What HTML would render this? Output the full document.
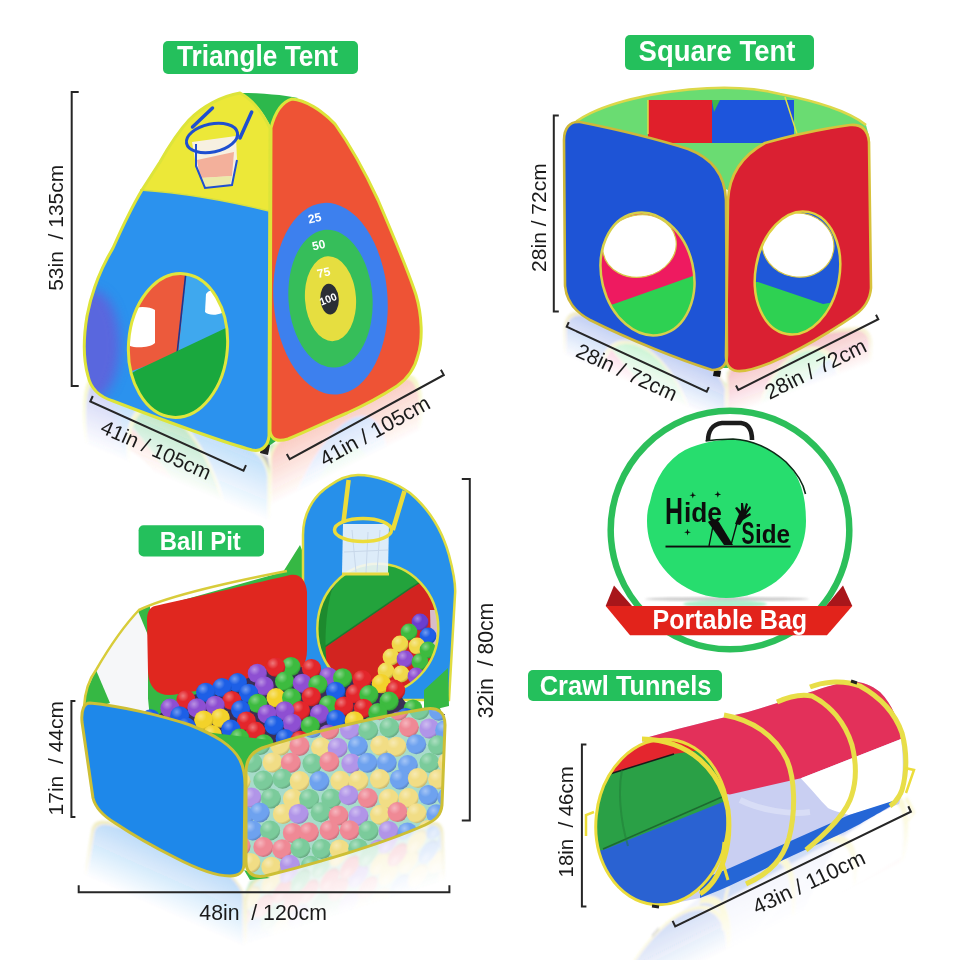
<!DOCTYPE html>
<html><head><meta charset="utf-8"><style>
html,body{margin:0;padding:0;background:#fff;}
svg{display:block;}
text{font-family:"Liberation Sans", sans-serif;}
</style></head><body>
<svg width="960" height="960" viewBox="0 0 960 960">
<defs>
<filter id="blur6" x="-20%" y="-20%" width="140%" height="140%"><feGaussianBlur stdDeviation="6"/></filter>
<filter id="blur3" x="-20%" y="-20%" width="140%" height="140%"><feGaussianBlur stdDeviation="3"/></filter>
<filter id="blur1" x="-20%" y="-20%" width="140%" height="140%"><feGaussianBlur stdDeviation="1"/></filter>
<radialGradient id="ballhl" cx="0.35" cy="0.3" r="0.75">
<stop offset="0" stop-color="#fff" stop-opacity="0.38"/>
<stop offset="0.4" stop-color="#fff" stop-opacity="0"/>
<stop offset="0.8" stop-color="#000" stop-opacity="0"/>
<stop offset="1" stop-color="#000" stop-opacity="0.25"/>
</radialGradient>
</defs>
<rect width="960" height="960" fill="#ffffff"/>

<defs><linearGradient id="rg0" gradientUnits="userSpaceOnUse" x1="175.0" y1="417.3" x2="198.1" y2="362.0"><stop offset="0" stop-color="#fff"/><stop offset="1" stop-color="#000"/></linearGradient><mask id="rm0" maskUnits="userSpaceOnUse" x="-500" y="-2000" width="2000" height="4000"><rect x="-500" y="-2000" width="2000" height="4000" fill="url(#rg0)"/></mask><clipPath id="rc0"><rect x="80" y="-2000" width="190" height="4000"/></clipPath><linearGradient id="rg1" gradientUnits="userSpaceOnUse" x1="350.0" y1="405.1" x2="325.4" y2="356.0"><stop offset="0" stop-color="#fff"/><stop offset="1" stop-color="#000"/></linearGradient><mask id="rm1" maskUnits="userSpaceOnUse" x="-500" y="-2000" width="2000" height="4000"><rect x="-500" y="-2000" width="2000" height="4000" fill="url(#rg1)"/></mask><clipPath id="rc1"><rect x="270" y="-2000" width="160" height="4000"/></clipPath><linearGradient id="rg2" gradientUnits="userSpaceOnUse" x1="640.8" y1="339.3" x2="658.4" y2="297.9"><stop offset="0" stop-color="#fff"/><stop offset="1" stop-color="#000"/></linearGradient><mask id="rm2" maskUnits="userSpaceOnUse" x="-500" y="-2000" width="2000" height="4000"><rect x="-500" y="-2000" width="2000" height="4000" fill="url(#rg2)"/></mask><clipPath id="rc2"><rect x="555" y="-2000" width="171.5" height="4000"/></clipPath><linearGradient id="rg3" gradientUnits="userSpaceOnUse" x1="803.2" y1="341.2" x2="787.5" y2="299.0"><stop offset="0" stop-color="#fff"/><stop offset="1" stop-color="#000"/></linearGradient><mask id="rm3" maskUnits="userSpaceOnUse" x="-500" y="-2000" width="2000" height="4000"><rect x="-500" y="-2000" width="2000" height="4000" fill="url(#rg3)"/></mask><clipPath id="rc3"><rect x="726.5" y="-2000" width="153.5" height="4000"/></clipPath><linearGradient id="rg4" gradientUnits="userSpaceOnUse" x1="162.2" y1="845.1" x2="186.9" y2="790.4"><stop offset="0" stop-color="#fff"/><stop offset="1" stop-color="#000"/></linearGradient><mask id="rm4" maskUnits="userSpaceOnUse" x="-500" y="-2000" width="2000" height="4000"><rect x="-500" y="-2000" width="2000" height="4000" fill="url(#rg4)"/></mask><clipPath id="rc4"><rect x="80" y="-2000" width="164.5" height="4000"/></clipPath><linearGradient id="rg5" gradientUnits="userSpaceOnUse" x1="349.8" y1="848.7" x2="331.5" y2="791.5"><stop offset="0" stop-color="#fff"/><stop offset="1" stop-color="#000"/></linearGradient><mask id="rm5" maskUnits="userSpaceOnUse" x="-500" y="-2000" width="2000" height="4000"><rect x="-500" y="-2000" width="2000" height="4000" fill="url(#rg5)"/></mask><clipPath id="rc5"><rect x="244.5" y="-2000" width="210.5" height="4000"/></clipPath><linearGradient id="rg6" gradientUnits="userSpaceOnUse" x1="762.5" y1="866.6" x2="735.9" y2="812.8"><stop offset="0" stop-color="#fff"/><stop offset="1" stop-color="#000"/></linearGradient><mask id="rm6" maskUnits="userSpaceOnUse" x="-500" y="-2000" width="2000" height="4000"><rect x="-500" y="-2000" width="2000" height="4000" fill="url(#rg6)"/></mask><clipPath id="rc6"><rect x="590" y="-2000" width="345" height="4000"/></clipPath></defs>
<g filter="url(#blur1)">
<g opacity="0.3"><use href="#tt" transform="matrix(1,0.8360,0,-1,0,688.40)" mask="url(#rm0)" clip-path="url(#rc0)"/></g>
<g opacity="0.3"><use href="#tt" transform="matrix(1,-1.0000,0,-1,0,1160.30)" mask="url(#rm1)" clip-path="url(#rc1)"/></g>
<g opacity="0.28"><use href="#sq" transform="matrix(1,0.8500,0,-1,0,134.00)" mask="url(#rm2)" clip-path="url(#rc2)"/></g>
<g opacity="0.28"><use href="#sq" transform="matrix(1,-0.7480,0,-1,0,1283.20)" mask="url(#rm3)" clip-path="url(#rc3)"/></g>
<g opacity="0.3"><use href="#bp" transform="matrix(1,0.9000,0,-1,0,1544.20)" mask="url(#rm4)" clip-path="url(#rc4)"/></g>
<g opacity="0.3"><use href="#bp" transform="matrix(1,-0.6400,0,-1,0,1921.20)" mask="url(#rm5)" clip-path="url(#rc5)"/></g>
<g opacity="0.24"><use href="#tun" transform="matrix(1,-0.9900,0,-1,0,2488.00)" mask="url(#rm6)" clip-path="url(#rc6)"/></g>
</g>
<g id="tt">
<path d="M250,446 L262,451 L276,441 L271,415 Z" fill="#2fb24a"/>
<path d="M262,443 L270,445 L268,455 L260,453 Z" fill="#222"/>
<path d="M240,93 C222,96 203,106 189,120 C178,132 169,146 160,162 L142,190 C130,210 121,230 113,248 C101,268 92,290 87,316 C83,340 84,362 88,376 C91,390 100,397 113,401 C160,419 218,441 252,450 C262,452 268,446 269,436 L270,128 C262,112 252,99 240,93 Z" fill="#2b92ee"/>
<clipPath id="ttfc"><path d="M240,93 C222,96 203,106 189,120 C178,132 169,146 160,162 L142,190 C130,210 121,230 113,248 C101,268 92,290 87,316 C83,340 84,362 88,376 C91,390 100,397 113,401 C160,419 218,441 252,450 C262,452 268,446 269,436 L270,128 C262,112 252,99 240,93 Z"/></clipPath><g clip-path="url(#ttfc)"><ellipse cx="92" cy="345" rx="28" ry="55" fill="#6a58d8" opacity="0.75" filter="url(#blur6)"/></g>
<path d="M240,93 C222,96 203,106 189,120 C178,132 169,146 160,162 L142,190 Q200,194 269,211 L270,128 C262,112 252,99 240,93 Z" fill="#ece838"/>
<path d="M240,93 C262,93 284,95 298,98 C287,104 277,114 271,128 C264,112 254,100 240,93 Z" fill="#2db84c"/>
<path d="M271,128 C275,112 282,102 292,99 C305,100 322,110 335,124 C350,145 365,172 378,200 C393,235 408,270 416,295 C422,315 423,340 418,355 C415,368 407,379 397,386 C380,397 365,405 347,413 C330,420 310,430 288,439 C278,442 271,440 270,431 Z" fill="#ee5335"/>
<g transform="rotate(-4 330.5 298.7)">
<ellipse cx="330.5" cy="298.7" rx="57" ry="96" fill="#3d80ee"/>
<ellipse cx="330.5" cy="298.7" rx="42" ry="69" fill="#36be5a"/>
<ellipse cx="330.5" cy="298.7" rx="25.5" ry="42.5" fill="#e6de40"/>
<ellipse cx="329.5" cy="299" rx="9.2" ry="15.4" fill="#2b2f35"/>
</g>
<g fill="#fff" font-weight="bold" font-size="12" text-anchor="middle">
<text transform="translate(315.5 222) rotate(-12)">25</text>
<text transform="translate(319.5 249) rotate(-12)">50</text>
<text transform="translate(324.5 276.5) rotate(-12)">75</text>
<text transform="translate(329.5 302.5) rotate(-22)" font-size="10.5">100</text>
</g>
<clipPath id="door1"><ellipse cx="178" cy="345.5" rx="49.5" ry="72" transform="rotate(4 178 345.5)"/></clipPath>
<g clip-path="url(#door1)">
<rect x="120" y="265" width="120" height="160" fill="#3fa8ee"/>
<path d="M120,265 L187,265 L178,355 L120,375 Z" fill="#ec5a3c"/>
<path d="M186,272 L177,354" stroke="#1c3590" stroke-width="1.6"/>
<path d="M120,380 L137,370 L230,326 L240,326 L240,430 L120,430 Z" fill="#1aa83e"/>
<path d="M130,310 C135,306 150,306 155,310 L155,343 C150,348 135,348 130,346 Z" fill="#fff"/>
<path d="M206,294 C210,288 218,290 222,298 L222,313 C215,316 208,315 205,312 Z" fill="#fff"/>
</g>
<ellipse cx="178" cy="345.5" rx="49.5" ry="72" transform="rotate(4 178 345.5)" fill="none" stroke="#e0e63c" stroke-width="3"/>
<!-- hoop -->
<path d="M192,142 L236,136 L237,160 L232,185 L205,188 L196,166 Z" fill="#f8f0ea" opacity="0.95"/>
<path d="M197,160 L234,152 L232,176 L200,178 Z" fill="#f2a48e" opacity="0.85"/><path d="M200,178 L232,176 L230,185 L205,188 Z" fill="#e8e89a" opacity="0.8"/>
<path d="M196,144 L196,166 L205,188 L232,185 L237,160" fill="none" stroke="#1f4fd0" stroke-width="2"/>
<ellipse cx="212" cy="138" rx="26" ry="14" transform="rotate(-12 212 138)" fill="none" stroke="#1f4fd0" stroke-width="3"/>
<path d="M192.5,127 L212.5,108 M240,138 L251.7,112" stroke="#1f4fd0" stroke-width="3.5" stroke-linecap="round"/>
<!-- piping -->
<path d="M240,93 C222,96 203,106 189,120 C178,132 169,146 160,162 L142,190 C130,210 121,230 113,248 C101,268 92,290 87,316 C83,340 84,362 88,376 C91,390 100,397 113,401 C160,419 218,441 252,450 C262,452 268,446 269,436 L270,128 C262,112 252,99 240,93 Z" fill="none" stroke="#dde43a" stroke-width="3"/>
<path d="M271,128 C275,112 282,102 292,99 C305,100 322,110 335,124 C350,145 365,172 378,200 C393,235 408,270 416,295 C422,315 423,340 418,355 C415,368 407,379 397,386 C380,397 365,405 347,413 C330,420 310,430 288,439 C278,442 271,440 270,431 Z" fill="none" stroke="#dde43a" stroke-width="3"/>
<path d="M140,190 Q200,194 269,211" fill="none" stroke="#d8e040" stroke-width="1.5"/>
</g>

<g id="sq">
<path d="M565,135 C570,120 600,105 650,95 C690,88 740,84 780,94 C820,102 850,112 866,125 L870,140 L728,190 Z" fill="#6adc72"/>
<rect x="648" y="100" width="64" height="44" fill="#e01f2b"/>
<rect x="712" y="100" width="82" height="44" fill="#1d55dc"/>
<path d="M712,100 L720,100 L714,112 Z" fill="#3db84a"/>
<path d="M648,100 L648,134 M785,97 L797,134" stroke="#dfe048" stroke-width="1.5"/>
<path d="M640,143 L800,143 L760,152 L728,185 L700,155 Z" fill="#6adc72"/>
<path d="M565,135 C570,120 600,105 650,95 C690,88 740,84 780,94 C820,102 850,112 866,125" fill="none" stroke="#dcd84a" stroke-width="2.5"/>
<path d="M716,357 L728,350 L728,368 L718,368 Z" fill="#3cc050"/>
<path d="M714,370 L721,371 L720,377 L713,376 Z" fill="#111"/>
<path d="M580,122 C620,130 660,140 688,149 C712,158 725,175 726,200 L727,355 C727,365 722,370 712,370 C680,360 630,340 590,320 C575,312 566,300 565,285 L564,140 C564,128 570,121 580,122 Z" fill="#1e54d6"/>
<path d="M765,143 C790,136 820,129 850,125 C862,124 868,130 869,142 L871,288 C870,300 865,308 855,315 C830,332 800,350 770,363 C755,369 745,372 737,371 C730,370 726,366 726,356 L728,200 C729,180 738,158 765,143 Z" fill="#da2032"/>
<clipPath id="door2"><ellipse cx="647.5" cy="274" rx="46" ry="62" transform="rotate(-13 647.5 274)"/></clipPath>
<g clip-path="url(#door2)">
<rect x="590" y="205" width="120" height="140" fill="#2ed152"/>
<path d="M590,205 L710,205 L710,270 L614,304 L590,310 Z" fill="#ee1a60"/>
<ellipse cx="639.5" cy="246" rx="37" ry="31" transform="rotate(-12 639.5 246)" fill="#fff" stroke="#d8c848" stroke-width="1.2"/>
</g>
<ellipse cx="647.5" cy="274" rx="46" ry="62" transform="rotate(-13 647.5 274)" fill="none" stroke="#d6d04a" stroke-width="2.5"/>
<clipPath id="door3"><ellipse cx="797.5" cy="273" rx="42" ry="62" transform="rotate(10 797.5 273)"/></clipPath>
<g clip-path="url(#door3)">
<rect x="750" y="205" width="100" height="140" fill="#2ed152"/>
<path d="M750,205 L850,205 L850,300 L823,304 L758,282 L750,282 Z" fill="#1f58d8"/>
<ellipse cx="798" cy="245" rx="36" ry="32" transform="rotate(10 798 245)" fill="#fff" stroke="#d8c848" stroke-width="1.2"/>
</g>
<ellipse cx="797.5" cy="273" rx="42" ry="62" transform="rotate(10 797.5 273)" fill="none" stroke="#e0d040" stroke-width="2.5"/>
<path d="M580,122 C620,130 660,140 688,149 C712,158 725,175 726,200 L727,355 C727,365 722,370 712,370 C680,360 630,340 590,320 C575,312 566,300 565,285 L564,140 C564,128 570,121 580,122 Z" fill="none" stroke="#cdb83a" stroke-width="2.6"/>
<path d="M765,143 C790,136 820,129 850,125 C862,124 868,130 869,142 L871,288 C870,300 865,308 855,315 C830,332 800,350 770,363 C755,369 745,372 737,371 C730,370 726,366 726,356 L728,200 C729,180 738,158 765,143 Z" fill="none" stroke="#d8c23c" stroke-width="2.6"/>
</g>

<g id="bag">
<circle cx="730" cy="530" r="119.3" fill="#fff" stroke="#2cbf5a" stroke-width="6.5"/>
<ellipse cx="727" cy="599" rx="82" ry="2" fill="#8a8a8a" opacity="0.45" filter="url(#blur1)"/>
<ellipse cx="725" cy="604" rx="42" ry="4" fill="#8de8b8" opacity="0.7" filter="url(#blur1)"/>
<path d="M708,441 C708,432 712,424 722,423 L741,423 C749,424 752,430 752,440" fill="none" stroke="#1c1c1c" stroke-width="4.6"/>
<path d="M650,502 C655,478 667,460 685,450 C700,443 715,440 733,439 C752,440 770,448 786,462 C800,476 806,495 806,521 C806,563 772,598 726.5,598 C681,598 647,563 647,521 C647,513 648,507 650,502 Z" fill="#27dd6e"/>
<path d="M705.6,441 C715,440 722,439 733,439 C752,440 770,448 786,462 C798,474 804,486 805.5,494" fill="none" stroke="#0c2a16" stroke-width="1.6"/>
<g fill="#0d0d0d" style="font-family:'Liberation Sans',sans-serif;font-weight:bold">
<text x="665" y="523.5" style="font-size:36px" textLength="18" lengthAdjust="spacingAndGlyphs">H</text>
<text x="684" y="522" style="font-size:27px" textLength="38" lengthAdjust="spacingAndGlyphs">ide</text>
<text x="741.5" y="543.5" style="font-size:32px" textLength="13" lengthAdjust="spacingAndGlyphs">S</text>
<text x="755" y="543" style="font-size:26px" textLength="35" lengthAdjust="spacingAndGlyphs">ide</text>
<path d="M708,522 C712,519 716,519 719,522 L733,545 L724,545 Z"/>
<path d="M713,526 L709,546" stroke="#0d0d0d" stroke-width="1.3"/>
<path d="M731,545 L737,523" stroke="#0d0d0d" stroke-width="1.4"/>
<path d="M735,524 L739,514 L735,508 L737,507 L741,511 L741,503 L743,503 L744,510 L746,503 L748,504 L746,511 L750,506 L751,508 L746,515 L750,513 L751,515 L743,520 L740,525 Z"/>
<rect x="665.5" y="545.6" width="125" height="1.9"/>
<path d="M692,494.4 l0.8,-2.6 l0.8,2.6 l2.6,0.8 l-2.6,0.8 l-0.8,2.6 l-0.8,-2.6 l-2.6,-0.8 Z M717,493.6 l0.8,-2.6 l0.8,2.6 l2.6,0.8 l-2.6,0.8 l-0.8,2.6 l-0.8,-2.6 l-2.6,-0.8 Z M686.7,531.4 l0.8,-2.6 l0.8,2.6 l2.6,0.8 l-2.6,0.8 l-0.8,2.6 l-0.8,-2.6 l-2.6,-0.8 Z"/>
</g>
<path d="M614,585.5 L605.7,606 L632,606 Z" fill="#a8161a"/>
<path d="M843,585.5 L852.3,606 L826,606 Z" fill="#a8161a"/>
<path d="M605.7,606 L852.3,606 L827,635.2 L630,635.2 Z" fill="#e2231b"/>
<text transform="translate(729.8 628.6) scale(1 1.09)" fill="#fff" font-weight="bold" font-size="25.1" text-anchor="middle">Portable Bag</text>
</g>

<g id="bp">
<path d="M283,572 L300,545 L306,560 L308,700 L150,720 L140,612 Z" fill="#36b844"/>

<path d="M303,700 L303,535 C303,515 312,497 329,486 C340,478 348,475 358,475 C375,475 395,482 410,493 C428,508 442,530 449,555 C453,570 456,585 455,595 L449,700 Z" fill="#2790ea"/>
<clipPath id="tun1"><ellipse cx="377.8" cy="628.8" rx="60.5" ry="65"/></clipPath>
<g clip-path="url(#tun1)">
<rect x="315" y="560" width="125" height="140" fill="#d22420"/>
<path d="M315,650 L325,646.7 L410,588.3 L440,570 L440,560 L315,560 Z" fill="#23a33c"/>
<path d="M325,646.7 L410,588.3 L440,570" stroke="#1a7a30" stroke-width="1.5" fill="none"/>
<path d="M322,680 C316,650 318,610 326,585" stroke="#1d8a2e" stroke-width="14" fill="none"/>
<path d="M325,582 C330,572 338,566 348,563 L350,570 C342,575 336,582 332,590 Z" fill="#2343b8"/>
<path d="M430,610 L440,610 L440,680 L432,680 Z" fill="#d8e4f4" opacity="0.8"/>

<g><circle cx="420.0" cy="622.0" r="8.4" fill="#6a3ed0"/><circle cx="420.0" cy="622.0" r="8.4" fill="url(#ballhl)"/></g>
<g><circle cx="409.0" cy="632.0" r="8.4" fill="#3dbb3f"/><circle cx="409.0" cy="632.0" r="8.4" fill="url(#ballhl)"/></g>
<g><circle cx="428.0" cy="636.0" r="8.4" fill="#1d5fe6"/><circle cx="428.0" cy="636.0" r="8.4" fill="url(#ballhl)"/></g>
<g><circle cx="400.0" cy="644.0" r="8.4" fill="#f0d84a"/><circle cx="400.0" cy="644.0" r="8.4" fill="url(#ballhl)"/></g>
<g><circle cx="417.0" cy="646.0" r="8.4" fill="#f0d84a"/><circle cx="417.0" cy="646.0" r="8.4" fill="url(#ballhl)"/></g>
<g><circle cx="428.0" cy="650.0" r="8.4" fill="#3dbb3f"/><circle cx="428.0" cy="650.0" r="8.4" fill="url(#ballhl)"/></g>
<g><circle cx="391.0" cy="657.0" r="8.4" fill="#f0d84a"/><circle cx="391.0" cy="657.0" r="8.4" fill="url(#ballhl)"/></g>
<g><circle cx="405.0" cy="659.0" r="8.4" fill="#8e4fd2"/><circle cx="405.0" cy="659.0" r="8.4" fill="url(#ballhl)"/></g>
<g><circle cx="420.0" cy="662.0" r="8.4" fill="#3dbb3f"/><circle cx="420.0" cy="662.0" r="8.4" fill="url(#ballhl)"/></g>
<g><circle cx="386.0" cy="671.0" r="8.4" fill="#f0d84a"/><circle cx="386.0" cy="671.0" r="8.4" fill="url(#ballhl)"/></g>
<g><circle cx="401.0" cy="674.0" r="8.4" fill="#f0d84a"/><circle cx="401.0" cy="674.0" r="8.4" fill="url(#ballhl)"/></g>
<g><circle cx="416.0" cy="676.0" r="8.4" fill="#8e4fd2"/><circle cx="416.0" cy="676.0" r="8.4" fill="url(#ballhl)"/></g>
<g><circle cx="378.0" cy="685.0" r="8.4" fill="#e3262b"/><circle cx="378.0" cy="685.0" r="8.4" fill="url(#ballhl)"/></g>
<g><circle cx="394.0" cy="688.0" r="8.4" fill="#e3262b"/><circle cx="394.0" cy="688.0" r="8.4" fill="url(#ballhl)"/></g>
</g>
<ellipse cx="377.8" cy="628.8" rx="60.5" ry="65" fill="none" stroke="#dede40" stroke-width="2.5"/>
<path d="M343,524 L389,524 L388,574 L342,574 Z" fill="#f2f6fb" opacity="0.9"/><path d="M352,530 L356,572 M368,532 L366,573 M380,530 L377,572 M344,552 L388,550" stroke="#c8d8ea" stroke-width="1" fill="none"/>
<path d="M342,574 L389,574" stroke="#e6d840" stroke-width="3"/>
<ellipse cx="363" cy="530" rx="28.5" ry="11.5" fill="none" stroke="#ecdc3a" stroke-width="3.5"/>
<path d="M348.6,480 L343.5,522 M404.5,491 L392.8,530" stroke="#ecdc3a" stroke-width="4.5"/>
<path d="M303,700 L303,535 C303,515 312,497 329,486 C340,478 348,475 358,475 C375,475 395,482 410,493 C428,508 442,530 449,555 C453,570 456,585 455,595 L449,700 Z" fill="none" stroke="#e0dc40" stroke-width="2.5"/>
<path d="M139,610 C150,606 150,616 148,650 L148,712 L110,712 L84,707 C85,690 90,678 96,670 C103,658 118,632 139,610 Z" fill="#f6f7f9"/>
<path d="M96,670 L110,703 L84,711 L85,694 Z" fill="#36b844"/>
<path d="M138,611 L150,606 L150,640 Z" fill="#36b844"/>
<path d="M155,606 C200,596 260,582 290,575 C300,573 306,580 307,592 L307,650 C307,665 300,672 290,675 L178,694 C160,698 149,690 148,672 L147,620 C147,612 150,607 155,606 Z" fill="#e0271f"/>
<path d="M84,707 C85,690 90,678 96,670 C103,658 118,632 139,610 C170,595 230,582 287,571" fill="none" stroke="#d8cc3a" stroke-width="2.5"/>
<g>

<path d="M150,717.8 L150,717.8 L155,716.2 L160,713.7 L165,710.7 L170,707.7 L175,704.7 L180,701.7 L185,698.7 L190,695.7 L195,694.5 L200,693.2 L205,692.0 L210,690.7 L215,689.5 L220,688.2 L225,687.0 L230,685.7 L235,683.6 L240,681.5 L245,679.3 L250,677.2 L255,675.1 L260,673.0 L265,670.8 L270,668.7 L275,667.3 L280,667.3 L285,667.3 L290,667.3 L295,667.3 L300,667.3 L305,667.3 L310,667.3 L315,668.4 L320,671.5 L325,674.6 L330,676.1 L335,676.7 L340,677.4 L345,678.0 L350,678.6 L355,679.2 L360,679.9 L365,680.5 L370,681.3 L375,682.3 L380,683.2 L385,684.1 L390,685.1 L395,688.0 L400,694.9 L405,701.7 L410,705.6 L415,708.1 L420,709.7 L425,710.8 L430,711.8 L435,712.9 L440,713.9 L445,715.0 L445,714 L300,745 L248,765 L230,760 L120,715 Z" fill="#3a2f55"/>
<clipPath id="pitc"><rect x="140" y="600" width="303" height="300"/></clipPath><g clip-path="url(#pitc)">
<g><circle cx="290.9" cy="666.5" r="9.6" fill="#3dbb3f"/><circle cx="290.9" cy="666.5" r="9.6" fill="url(#ballhl)"/></g>
<g><circle cx="275.7" cy="667.1" r="9.6" fill="#e3262b"/><circle cx="275.7" cy="667.1" r="9.6" fill="url(#ballhl)"/></g>
<g><circle cx="311.5" cy="668.6" r="9.6" fill="#e3262b"/><circle cx="311.5" cy="668.6" r="9.6" fill="url(#ballhl)"/></g>
<g><circle cx="257.3" cy="673.4" r="9.6" fill="#8e4fd2"/><circle cx="257.3" cy="673.4" r="9.6" fill="url(#ballhl)"/></g>
<g><circle cx="328.5" cy="676.9" r="9.6" fill="#8e4fd2"/><circle cx="328.5" cy="676.9" r="9.6" fill="url(#ballhl)"/></g>
<g><circle cx="342.6" cy="677.8" r="9.6" fill="#3dbb3f"/><circle cx="342.6" cy="677.8" r="9.6" fill="url(#ballhl)"/></g>
<g><circle cx="362.0" cy="679.6" r="9.6" fill="#e3262b"/><circle cx="362.0" cy="679.6" r="9.6" fill="url(#ballhl)"/></g>
<g><circle cx="284.6" cy="681.2" r="9.6" fill="#3dbb3f"/><circle cx="284.6" cy="681.2" r="9.6" fill="url(#ballhl)"/></g>
<g><circle cx="237.5" cy="682.7" r="9.6" fill="#1d5fe6"/><circle cx="237.5" cy="682.7" r="9.6" fill="url(#ballhl)"/></g>
<g><circle cx="302.4" cy="683.3" r="9.6" fill="#8e4fd2"/><circle cx="302.4" cy="683.3" r="9.6" fill="url(#ballhl)"/></g>
<g><circle cx="381.3" cy="683.7" r="9.6" fill="#f3d22a"/><circle cx="381.3" cy="683.7" r="9.6" fill="url(#ballhl)"/></g>
<g><circle cx="317.9" cy="684.6" r="9.6" fill="#3dbb3f"/><circle cx="317.9" cy="684.6" r="9.6" fill="url(#ballhl)"/></g>
<g><circle cx="264.2" cy="685.9" r="9.6" fill="#8e4fd2"/><circle cx="264.2" cy="685.9" r="9.6" fill="url(#ballhl)"/></g>
<g><circle cx="222.0" cy="687.5" r="9.6" fill="#1d5fe6"/><circle cx="222.0" cy="687.5" r="9.6" fill="url(#ballhl)"/></g>
<g><circle cx="395.6" cy="690.4" r="9.6" fill="#e3262b"/><circle cx="395.6" cy="690.4" r="9.6" fill="url(#ballhl)"/></g>
<g><circle cx="335.6" cy="691.3" r="9.6" fill="#1d5fe6"/><circle cx="335.6" cy="691.3" r="9.6" fill="url(#ballhl)"/></g>
<g><circle cx="205.7" cy="692.4" r="9.6" fill="#1d5fe6"/><circle cx="205.7" cy="692.4" r="9.6" fill="url(#ballhl)"/></g>
<g><circle cx="248.6" cy="693.3" r="9.6" fill="#1d5fe6"/><circle cx="248.6" cy="693.3" r="9.6" fill="url(#ballhl)"/></g>
<g><circle cx="355.2" cy="693.7" r="9.6" fill="#e3262b"/><circle cx="355.2" cy="693.7" r="9.6" fill="url(#ballhl)"/></g>
<g><circle cx="368.9" cy="694.7" r="9.6" fill="#3dbb3f"/><circle cx="368.9" cy="694.7" r="9.6" fill="url(#ballhl)"/></g>
<g><circle cx="311.3" cy="696.6" r="9.6" fill="#e3262b"/><circle cx="311.3" cy="696.6" r="9.6" fill="url(#ballhl)"/></g>
<g><circle cx="276.1" cy="697.7" r="9.6" fill="#f3d22a"/><circle cx="276.1" cy="697.7" r="9.6" fill="url(#ballhl)"/></g>
<g><circle cx="291.6" cy="697.8" r="9.6" fill="#3dbb3f"/><circle cx="291.6" cy="697.8" r="9.6" fill="url(#ballhl)"/></g>
<g><circle cx="185.9" cy="699.7" r="9.6" fill="#e3262b"/><circle cx="185.9" cy="699.7" r="9.6" fill="url(#ballhl)"/></g>
<g><circle cx="231.8" cy="700.5" r="9.6" fill="#e3262b"/><circle cx="231.8" cy="700.5" r="9.6" fill="url(#ballhl)"/></g>
<g><circle cx="389.1" cy="701.2" r="9.6" fill="#3dbb3f"/><circle cx="389.1" cy="701.2" r="9.6" fill="url(#ballhl)"/></g>
<g><circle cx="257.7" cy="703.4" r="9.6" fill="#3dbb3f"/><circle cx="257.7" cy="703.4" r="9.6" fill="url(#ballhl)"/></g>
<g><circle cx="328.5" cy="704.9" r="9.6" fill="#3dbb3f"/><circle cx="328.5" cy="704.9" r="9.6" fill="url(#ballhl)"/></g>
<g><circle cx="215.1" cy="705.4" r="9.6" fill="#8e4fd2"/><circle cx="215.1" cy="705.4" r="9.6" fill="url(#ballhl)"/></g>
<g><circle cx="344.0" cy="706.1" r="9.6" fill="#e3262b"/><circle cx="344.0" cy="706.1" r="9.6" fill="url(#ballhl)"/></g>
<g><circle cx="196.9" cy="707.9" r="9.6" fill="#8e4fd2"/><circle cx="196.9" cy="707.9" r="9.6" fill="url(#ballhl)"/></g>
<g><circle cx="170.0" cy="708.2" r="9.6" fill="#8e4fd2"/><circle cx="170.0" cy="708.2" r="9.6" fill="url(#ballhl)"/></g>
<g><circle cx="363.5" cy="708.3" r="9.6" fill="#e3262b"/><circle cx="363.5" cy="708.3" r="9.6" fill="url(#ballhl)"/></g>
<g><circle cx="413.0" cy="709.0" r="9.6" fill="#3dbb3f"/><circle cx="413.0" cy="709.0" r="9.6" fill="url(#ballhl)"/></g>
<g><circle cx="240.6" cy="709.8" r="9.6" fill="#1d5fe6"/><circle cx="240.6" cy="709.8" r="9.6" fill="url(#ballhl)"/></g>
<g><circle cx="300.5" cy="710.7" r="9.6" fill="#e3262b"/><circle cx="300.5" cy="710.7" r="9.6" fill="url(#ballhl)"/></g>
<g><circle cx="284.8" cy="710.8" r="9.6" fill="#8e4fd2"/><circle cx="284.8" cy="710.8" r="9.6" fill="url(#ballhl)"/></g>
<g><circle cx="377.8" cy="712.7" r="9.6" fill="#3dbb3f"/><circle cx="377.8" cy="712.7" r="9.6" fill="url(#ballhl)"/></g>
<g><circle cx="431.8" cy="713.0" r="9.6" fill="#3dbb3f"/><circle cx="431.8" cy="713.0" r="9.6" fill="url(#ballhl)"/></g>
<g><circle cx="319.6" cy="713.9" r="9.6" fill="#8e4fd2"/><circle cx="319.6" cy="713.9" r="9.6" fill="url(#ballhl)"/></g>
<g><circle cx="267.1" cy="714.0" r="9.6" fill="#8e4fd2"/><circle cx="267.1" cy="714.0" r="9.6" fill="url(#ballhl)"/></g>
<g><circle cx="179.7" cy="715.9" r="9.6" fill="#1d5fe6"/><circle cx="179.7" cy="715.9" r="9.6" fill="url(#ballhl)"/></g>
<g><circle cx="405.7" cy="717.5" r="9.6" fill="#1d5fe6"/><circle cx="405.7" cy="717.5" r="9.6" fill="url(#ballhl)"/></g>
<g><circle cx="220.3" cy="718.1" r="9.6" fill="#f3d22a"/><circle cx="220.3" cy="718.1" r="9.6" fill="url(#ballhl)"/></g>
<g><circle cx="150.7" cy="718.8" r="9.6" fill="#1d5fe6"/><circle cx="150.7" cy="718.8" r="9.6" fill="url(#ballhl)"/></g>
<g><circle cx="335.9" cy="719.4" r="9.6" fill="#1d5fe6"/><circle cx="335.9" cy="719.4" r="9.6" fill="url(#ballhl)"/></g>
<g><circle cx="203.7" cy="720.1" r="9.6" fill="#f3d22a"/><circle cx="203.7" cy="720.1" r="9.6" fill="url(#ballhl)"/></g>
<g><circle cx="354.3" cy="720.9" r="9.6" fill="#f3d22a"/><circle cx="354.3" cy="720.9" r="9.6" fill="url(#ballhl)"/></g>
<g><circle cx="246.4" cy="721.1" r="9.6" fill="#e3262b"/><circle cx="246.4" cy="721.1" r="9.6" fill="url(#ballhl)"/></g>
<g><circle cx="398.1" cy="721.2" r="9.6" fill="#8e4fd2"/><circle cx="398.1" cy="721.2" r="9.6" fill="url(#ballhl)"/></g>
<g><circle cx="292.2" cy="723.3" r="9.6" fill="#8e4fd2"/><circle cx="292.2" cy="723.3" r="9.6" fill="url(#ballhl)"/></g>
<g><circle cx="274.0" cy="725.3" r="9.6" fill="#1d5fe6"/><circle cx="274.0" cy="725.3" r="9.6" fill="url(#ballhl)"/></g>
<g><circle cx="310.3" cy="725.8" r="9.6" fill="#3dbb3f"/><circle cx="310.3" cy="725.8" r="9.6" fill="url(#ballhl)"/></g>
<g><circle cx="423.5" cy="726.0" r="9.6" fill="#8e4fd2"/><circle cx="423.5" cy="726.0" r="9.6" fill="url(#ballhl)"/></g>
<g><circle cx="371.5" cy="726.2" r="9.6" fill="#3dbb3f"/><circle cx="371.5" cy="726.2" r="9.6" fill="url(#ballhl)"/></g>
<g><circle cx="186.4" cy="727.2" r="9.6" fill="#1d5fe6"/><circle cx="186.4" cy="727.2" r="9.6" fill="url(#ballhl)"/></g>
<g><circle cx="159.5" cy="727.4" r="9.6" fill="#f3d22a"/><circle cx="159.5" cy="727.4" r="9.6" fill="url(#ballhl)"/></g>
<g><circle cx="386.3" cy="727.9" r="9.6" fill="#1d5fe6"/><circle cx="386.3" cy="727.9" r="9.6" fill="url(#ballhl)"/></g>
<g><circle cx="439.6" cy="729.0" r="9.6" fill="#e3262b"/><circle cx="439.6" cy="729.0" r="9.6" fill="url(#ballhl)"/></g>
<g><circle cx="230.9" cy="729.2" r="9.6" fill="#1d5fe6"/><circle cx="230.9" cy="729.2" r="9.6" fill="url(#ballhl)"/></g>
<g><circle cx="255.7" cy="731.2" r="9.6" fill="#e3262b"/><circle cx="255.7" cy="731.2" r="9.6" fill="url(#ballhl)"/></g>
<g><circle cx="328.1" cy="734.1" r="9.6" fill="#8e4fd2"/><circle cx="328.1" cy="734.1" r="9.6" fill="url(#ballhl)"/></g>
<g><circle cx="212.3" cy="734.7" r="9.6" fill="#f3d22a"/><circle cx="212.3" cy="734.7" r="9.6" fill="url(#ballhl)"/></g>
<g><circle cx="342.5" cy="735.0" r="9.6" fill="#e3262b"/><circle cx="342.5" cy="735.0" r="9.6" fill="url(#ballhl)"/></g>
<g><circle cx="415.8" cy="736.2" r="9.6" fill="#1d5fe6"/><circle cx="415.8" cy="736.2" r="9.6" fill="url(#ballhl)"/></g>
<g><circle cx="196.7" cy="737.2" r="9.6" fill="#e3262b"/><circle cx="196.7" cy="737.2" r="9.6" fill="url(#ballhl)"/></g>
<g><circle cx="360.3" cy="738.1" r="9.6" fill="#8e4fd2"/><circle cx="360.3" cy="738.1" r="9.6" fill="url(#ballhl)"/></g>
<g><circle cx="239.5" cy="738.2" r="9.6" fill="#3dbb3f"/><circle cx="239.5" cy="738.2" r="9.6" fill="url(#ballhl)"/></g>
<g><circle cx="285.2" cy="738.5" r="9.6" fill="#1d5fe6"/><circle cx="285.2" cy="738.5" r="9.6" fill="url(#ballhl)"/></g>
<g><circle cx="168.9" cy="738.6" r="9.6" fill="#3dbb3f"/><circle cx="168.9" cy="738.6" r="9.6" fill="url(#ballhl)"/></g>
<g><circle cx="316.7" cy="739.7" r="9.6" fill="#f3d22a"/><circle cx="316.7" cy="739.7" r="9.6" fill="url(#ballhl)"/></g>
<g><circle cx="300.0" cy="740.4" r="9.6" fill="#e3262b"/><circle cx="300.0" cy="740.4" r="9.6" fill="url(#ballhl)"/></g>
<g><circle cx="431.0" cy="740.4" r="9.6" fill="#3dbb3f"/><circle cx="431.0" cy="740.4" r="9.6" fill="url(#ballhl)"/></g>
<g><circle cx="378.2" cy="740.9" r="9.6" fill="#3dbb3f"/><circle cx="378.2" cy="740.9" r="9.6" fill="url(#ballhl)"/></g>
<g><circle cx="264.0" cy="743.8" r="9.6" fill="#3dbb3f"/><circle cx="264.0" cy="743.8" r="9.6" fill="url(#ballhl)"/></g>
<g><circle cx="222.2" cy="744.5" r="9.6" fill="#e3262b"/><circle cx="222.2" cy="744.5" r="9.6" fill="url(#ballhl)"/></g>
<g><circle cx="150.7" cy="745.6" r="9.6" fill="#8e4fd2"/><circle cx="150.7" cy="745.6" r="9.6" fill="url(#ballhl)"/></g>
<g><circle cx="179.8" cy="746.4" r="9.6" fill="#1d5fe6"/><circle cx="179.8" cy="746.4" r="9.6" fill="url(#ballhl)"/></g>
<g><circle cx="396.0" cy="747.4" r="9.6" fill="#3dbb3f"/><circle cx="396.0" cy="747.4" r="9.6" fill="url(#ballhl)"/></g>
<g><circle cx="406.3" cy="747.7" r="9.6" fill="#3dbb3f"/><circle cx="406.3" cy="747.7" r="9.6" fill="url(#ballhl)"/></g>
<g><circle cx="205.1" cy="748.2" r="9.6" fill="#3dbb3f"/><circle cx="205.1" cy="748.2" r="9.6" fill="url(#ballhl)"/></g>
<g><circle cx="334.0" cy="749.2" r="9.6" fill="#e3262b"/><circle cx="334.0" cy="749.2" r="9.6" fill="url(#ballhl)"/></g>
<g><circle cx="248.4" cy="749.7" r="9.6" fill="#1d5fe6"/><circle cx="248.4" cy="749.7" r="9.6" fill="url(#ballhl)"/></g>
<g><circle cx="354.3" cy="750.6" r="9.6" fill="#3dbb3f"/><circle cx="354.3" cy="750.6" r="9.6" fill="url(#ballhl)"/></g>
<g><circle cx="371.2" cy="751.7" r="9.6" fill="#1d5fe6"/><circle cx="371.2" cy="751.7" r="9.6" fill="url(#ballhl)"/></g>
<g><circle cx="423.6" cy="752.9" r="9.6" fill="#e3262b"/><circle cx="423.6" cy="752.9" r="9.6" fill="url(#ballhl)"/></g>
<g><circle cx="310.3" cy="753.6" r="9.6" fill="#1d5fe6"/><circle cx="310.3" cy="753.6" r="9.6" fill="url(#ballhl)"/></g>
<g><circle cx="275.0" cy="753.9" r="9.6" fill="#8e4fd2"/><circle cx="275.0" cy="753.9" r="9.6" fill="url(#ballhl)"/></g>
<g><circle cx="292.7" cy="754.2" r="9.6" fill="#8e4fd2"/><circle cx="292.7" cy="754.2" r="9.6" fill="url(#ballhl)"/></g>
<g><circle cx="388.8" cy="756.3" r="9.6" fill="#1d5fe6"/><circle cx="388.8" cy="756.3" r="9.6" fill="url(#ballhl)"/></g>
<g><circle cx="185.6" cy="756.9" r="9.6" fill="#8e4fd2"/><circle cx="185.6" cy="756.9" r="9.6" fill="url(#ballhl)"/></g>
<g><circle cx="159.0" cy="757.0" r="9.6" fill="#e3262b"/><circle cx="159.0" cy="757.0" r="9.6" fill="url(#ballhl)"/></g>
<g><circle cx="230.0" cy="757.9" r="9.6" fill="#f3d22a"/><circle cx="230.0" cy="757.9" r="9.6" fill="url(#ballhl)"/></g>
<g><circle cx="440.4" cy="758.6" r="9.6" fill="#e3262b"/><circle cx="440.4" cy="758.6" r="9.6" fill="url(#ballhl)"/></g>
<g><circle cx="258.6" cy="760.2" r="9.6" fill="#3dbb3f"/><circle cx="258.6" cy="760.2" r="9.6" fill="url(#ballhl)"/></g>
<g><circle cx="326.0" cy="762.3" r="9.6" fill="#3dbb3f"/><circle cx="326.0" cy="762.3" r="9.6" fill="url(#ballhl)"/></g>
<g><circle cx="214.2" cy="762.7" r="9.6" fill="#8e4fd2"/><circle cx="214.2" cy="762.7" r="9.6" fill="url(#ballhl)"/></g>
<g><circle cx="413.8" cy="763.6" r="9.6" fill="#f3d22a"/><circle cx="413.8" cy="763.6" r="9.6" fill="url(#ballhl)"/></g>
<g><circle cx="344.0" cy="764.0" r="9.6" fill="#e3262b"/><circle cx="344.0" cy="764.0" r="9.6" fill="url(#ballhl)"/></g>
<g><circle cx="196.2" cy="765.8" r="9.6" fill="#3dbb3f"/><circle cx="196.2" cy="765.8" r="9.6" fill="url(#ballhl)"/></g>
<g><circle cx="167.6" cy="766.4" r="9.6" fill="#8e4fd2"/><circle cx="167.6" cy="766.4" r="9.6" fill="url(#ballhl)"/></g>
<g><circle cx="363.3" cy="767.5" r="9.6" fill="#1d5fe6"/><circle cx="363.3" cy="767.5" r="9.6" fill="url(#ballhl)"/></g>
<g><circle cx="299.5" cy="767.6" r="9.6" fill="#e3262b"/><circle cx="299.5" cy="767.6" r="9.6" fill="url(#ballhl)"/></g>
<g><circle cx="381.5" cy="767.8" r="9.6" fill="#1d5fe6"/><circle cx="381.5" cy="767.8" r="9.6" fill="url(#ballhl)"/></g>
<g><circle cx="281.9" cy="767.8" r="9.6" fill="#1d5fe6"/><circle cx="281.9" cy="767.8" r="9.6" fill="url(#ballhl)"/></g>
<g><circle cx="239.5" cy="768.1" r="9.6" fill="#f3d22a"/><circle cx="239.5" cy="768.1" r="9.6" fill="url(#ballhl)"/></g>
<g><circle cx="431.6" cy="769.0" r="9.6" fill="#e3262b"/><circle cx="431.6" cy="769.0" r="9.6" fill="url(#ballhl)"/></g>
<g><circle cx="317.4" cy="769.5" r="9.6" fill="#e3262b"/><circle cx="317.4" cy="769.5" r="9.6" fill="url(#ballhl)"/></g>
<g><circle cx="264.8" cy="772.0" r="9.6" fill="#1d5fe6"/><circle cx="264.8" cy="772.0" r="9.6" fill="url(#ballhl)"/></g>
<g><circle cx="180.0" cy="772.1" r="9.6" fill="#1d5fe6"/><circle cx="180.0" cy="772.1" r="9.6" fill="url(#ballhl)"/></g>
<g><circle cx="220.3" cy="773.9" r="9.6" fill="#3dbb3f"/><circle cx="220.3" cy="773.9" r="9.6" fill="url(#ballhl)"/></g>
<g><circle cx="150.4" cy="773.9" r="9.6" fill="#3dbb3f"/><circle cx="150.4" cy="773.9" r="9.6" fill="url(#ballhl)"/></g>
<g><circle cx="405.8" cy="774.1" r="9.6" fill="#e3262b"/><circle cx="405.8" cy="774.1" r="9.6" fill="url(#ballhl)"/></g>
<g><circle cx="396.3" cy="775.0" r="9.6" fill="#3dbb3f"/><circle cx="396.3" cy="775.0" r="9.6" fill="url(#ballhl)"/></g>
<g><circle cx="250.1" cy="776.6" r="9.6" fill="#3dbb3f"/><circle cx="250.1" cy="776.6" r="9.6" fill="url(#ballhl)"/></g>
<g><circle cx="337.5" cy="777.0" r="9.6" fill="#3dbb3f"/><circle cx="337.5" cy="777.0" r="9.6" fill="url(#ballhl)"/></g>
<g><circle cx="205.0" cy="779.1" r="9.6" fill="#3dbb3f"/><circle cx="205.0" cy="779.1" r="9.6" fill="url(#ballhl)"/></g>
<g><circle cx="353.0" cy="779.3" r="9.6" fill="#f3d22a"/><circle cx="353.0" cy="779.3" r="9.6" fill="url(#ballhl)"/></g>
<g><circle cx="369.9" cy="780.3" r="9.6" fill="#8e4fd2"/><circle cx="369.9" cy="780.3" r="9.6" fill="url(#ballhl)"/></g>
<g><circle cx="422.9" cy="781.1" r="9.6" fill="#1d5fe6"/><circle cx="422.9" cy="781.1" r="9.6" fill="url(#ballhl)"/></g>
<g><circle cx="186.5" cy="783.5" r="9.6" fill="#8e4fd2"/><circle cx="186.5" cy="783.5" r="9.6" fill="url(#ballhl)"/></g>
<g><circle cx="387.8" cy="784.0" r="9.6" fill="#3dbb3f"/><circle cx="387.8" cy="784.0" r="9.6" fill="url(#ballhl)"/></g>
<g><circle cx="231.5" cy="784.4" r="9.6" fill="#e3262b"/><circle cx="231.5" cy="784.4" r="9.6" fill="url(#ballhl)"/></g>
<g><circle cx="160.8" cy="785.0" r="9.6" fill="#1d5fe6"/><circle cx="160.8" cy="785.0" r="9.6" fill="url(#ballhl)"/></g>
<g><circle cx="438.9" cy="785.1" r="9.6" fill="#1d5fe6"/><circle cx="438.9" cy="785.1" r="9.6" fill="url(#ballhl)"/></g>
<g><circle cx="212.6" cy="790.5" r="9.6" fill="#3dbb3f"/><circle cx="212.6" cy="790.5" r="9.6" fill="url(#ballhl)"/></g>
<g><circle cx="414.1" cy="792.4" r="9.6" fill="#1d5fe6"/><circle cx="414.1" cy="792.4" r="9.6" fill="url(#ballhl)"/></g>
<g><circle cx="169.3" cy="793.1" r="9.6" fill="#1d5fe6"/><circle cx="169.3" cy="793.1" r="9.6" fill="url(#ballhl)"/></g>
<g><circle cx="196.6" cy="793.2" r="9.6" fill="#e3262b"/><circle cx="196.6" cy="793.2" r="9.6" fill="url(#ballhl)"/></g>
<g><circle cx="432.2" cy="796.8" r="9.6" fill="#e3262b"/><circle cx="432.2" cy="796.8" r="9.6" fill="url(#ballhl)"/></g>
<g><circle cx="404.5" cy="802.4" r="9.6" fill="#e3262b"/><circle cx="404.5" cy="802.4" r="9.6" fill="url(#ballhl)"/></g>
<g><circle cx="153.3" cy="803.3" r="9.6" fill="#3dbb3f"/><circle cx="153.3" cy="803.3" r="9.6" fill="url(#ballhl)"/></g>
<g><circle cx="176.7" cy="805.0" r="9.6" fill="#8e4fd2"/><circle cx="176.7" cy="805.0" r="9.6" fill="url(#ballhl)"/></g>
<g><circle cx="421.4" cy="810.9" r="9.6" fill="#3dbb3f"/><circle cx="421.4" cy="810.9" r="9.6" fill="url(#ballhl)"/></g>
<g><circle cx="161.7" cy="812.6" r="9.6" fill="#3dbb3f"/><circle cx="161.7" cy="812.6" r="9.6" fill="url(#ballhl)"/></g>
</g></g>
<path d="M205,732 L270,740 L262,770 L246,790 L232,790 Z" fill="#36b844"/>
<path d="M90,703 C120,706 160,715 190,725 C215,735 232,745 240,760 C244,768 245,775 245,785 L244,864 C244,872 238,876 230,876 C215,876 195,868 174,857 C150,845 130,833 115,823 C105,817 96,810 93,798 L82,722 C81,710 84,703 90,703 Z" fill="#1e88ea"/>
<path d="M244,870 L270,878 L250,880 Z" fill="#36b844"/>
<path d="M424,690 L448,668 L449,706 L424,712 Z" fill="#36b844"/>
<clipPath id="meshc"><path d="M246,772 C246,760 252,752 262,748 C300,735 370,718 425,709 C438,707 445,712 445,725 L442,805 C441,815 436,820 425,825 C380,845 310,865 265,876 C252,878 246,872 246,862 Z"/></clipPath><g clip-path="url(#meshc)"><rect x="240" y="700" width="210" height="180" fill="#9fd8c4"/>
<g><circle cx="242.5" cy="713.0" r="10.0" fill="#f0da78"/><circle cx="242.5" cy="713.0" r="10.0" fill="url(#ballhl)"/></g>
<g><circle cx="259.6" cy="711.9" r="10.0" fill="#6cc690"/><circle cx="259.6" cy="711.9" r="10.0" fill="url(#ballhl)"/></g>
<g><circle cx="281.6" cy="713.6" r="10.0" fill="#a98ae6"/><circle cx="281.6" cy="713.6" r="10.0" fill="url(#ballhl)"/></g>
<g><circle cx="300.0" cy="713.5" r="10.0" fill="#a98ae6"/><circle cx="300.0" cy="713.5" r="10.0" fill="url(#ballhl)"/></g>
<g><circle cx="320.2" cy="712.3" r="10.0" fill="#ee7c8a"/><circle cx="320.2" cy="712.3" r="10.0" fill="url(#ballhl)"/></g>
<g><circle cx="340.4" cy="711.6" r="10.0" fill="#5e98ee"/><circle cx="340.4" cy="711.6" r="10.0" fill="url(#ballhl)"/></g>
<g><circle cx="360.7" cy="713.1" r="10.0" fill="#5e98ee"/><circle cx="360.7" cy="713.1" r="10.0" fill="url(#ballhl)"/></g>
<g><circle cx="379.5" cy="710.3" r="10.0" fill="#ee7c8a"/><circle cx="379.5" cy="710.3" r="10.0" fill="url(#ballhl)"/></g>
<g><circle cx="398.5" cy="710.5" r="10.0" fill="#ee7c8a"/><circle cx="398.5" cy="710.5" r="10.0" fill="url(#ballhl)"/></g>
<g><circle cx="419.4" cy="710.0" r="10.0" fill="#6cc690"/><circle cx="419.4" cy="710.0" r="10.0" fill="url(#ballhl)"/></g>
<g><circle cx="438.8" cy="710.7" r="10.0" fill="#5e98ee"/><circle cx="438.8" cy="710.7" r="10.0" fill="url(#ballhl)"/></g>
<g><circle cx="455.7" cy="713.8" r="10.0" fill="#f0da78"/><circle cx="455.7" cy="713.8" r="10.0" fill="url(#ballhl)"/></g>
<g><circle cx="253.5" cy="729.5" r="10.0" fill="#5e98ee"/><circle cx="253.5" cy="729.5" r="10.0" fill="url(#ballhl)"/></g>
<g><circle cx="273.3" cy="729.8" r="10.0" fill="#a98ae6"/><circle cx="273.3" cy="729.8" r="10.0" fill="url(#ballhl)"/></g>
<g><circle cx="290.2" cy="728.4" r="10.0" fill="#5e98ee"/><circle cx="290.2" cy="728.4" r="10.0" fill="url(#ballhl)"/></g>
<g><circle cx="312.2" cy="728.1" r="10.0" fill="#5e98ee"/><circle cx="312.2" cy="728.1" r="10.0" fill="url(#ballhl)"/></g>
<g><circle cx="329.2" cy="729.4" r="10.0" fill="#ee7c8a"/><circle cx="329.2" cy="729.4" r="10.0" fill="url(#ballhl)"/></g>
<g><circle cx="349.9" cy="729.8" r="10.0" fill="#a98ae6"/><circle cx="349.9" cy="729.8" r="10.0" fill="url(#ballhl)"/></g>
<g><circle cx="368.2" cy="730.3" r="10.0" fill="#6cc690"/><circle cx="368.2" cy="730.3" r="10.0" fill="url(#ballhl)"/></g>
<g><circle cx="389.3" cy="727.7" r="10.0" fill="#6cc690"/><circle cx="389.3" cy="727.7" r="10.0" fill="url(#ballhl)"/></g>
<g><circle cx="408.8" cy="727.2" r="10.0" fill="#ee7c8a"/><circle cx="408.8" cy="727.2" r="10.0" fill="url(#ballhl)"/></g>
<g><circle cx="429.3" cy="728.4" r="10.0" fill="#a98ae6"/><circle cx="429.3" cy="728.4" r="10.0" fill="url(#ballhl)"/></g>
<g><circle cx="445.1" cy="730.2" r="10.0" fill="#5e98ee"/><circle cx="445.1" cy="730.2" r="10.0" fill="url(#ballhl)"/></g>
<g><circle cx="466.0" cy="730.4" r="10.0" fill="#6cc690"/><circle cx="466.0" cy="730.4" r="10.0" fill="url(#ballhl)"/></g>
<g><circle cx="240.2" cy="744.7" r="10.0" fill="#6cc690"/><circle cx="240.2" cy="744.7" r="10.0" fill="url(#ballhl)"/></g>
<g><circle cx="260.0" cy="745.0" r="10.0" fill="#6cc690"/><circle cx="260.0" cy="745.0" r="10.0" fill="url(#ballhl)"/></g>
<g><circle cx="280.4" cy="745.4" r="10.0" fill="#f0da78"/><circle cx="280.4" cy="745.4" r="10.0" fill="url(#ballhl)"/></g>
<g><circle cx="299.5" cy="745.9" r="10.0" fill="#ee7c8a"/><circle cx="299.5" cy="745.9" r="10.0" fill="url(#ballhl)"/></g>
<g><circle cx="321.0" cy="747.2" r="10.0" fill="#f0da78"/><circle cx="321.0" cy="747.2" r="10.0" fill="url(#ballhl)"/></g>
<g><circle cx="337.6" cy="747.8" r="10.0" fill="#a98ae6"/><circle cx="337.6" cy="747.8" r="10.0" fill="url(#ballhl)"/></g>
<g><circle cx="357.8" cy="746.1" r="10.0" fill="#5e98ee"/><circle cx="357.8" cy="746.1" r="10.0" fill="url(#ballhl)"/></g>
<g><circle cx="380.2" cy="745.4" r="10.0" fill="#f0da78"/><circle cx="380.2" cy="745.4" r="10.0" fill="url(#ballhl)"/></g>
<g><circle cx="396.4" cy="746.7" r="10.0" fill="#f0da78"/><circle cx="396.4" cy="746.7" r="10.0" fill="url(#ballhl)"/></g>
<g><circle cx="416.2" cy="744.3" r="10.0" fill="#5e98ee"/><circle cx="416.2" cy="744.3" r="10.0" fill="url(#ballhl)"/></g>
<g><circle cx="437.9" cy="745.2" r="10.0" fill="#6cc690"/><circle cx="437.9" cy="745.2" r="10.0" fill="url(#ballhl)"/></g>
<g><circle cx="455.1" cy="744.2" r="10.0" fill="#ee7c8a"/><circle cx="455.1" cy="744.2" r="10.0" fill="url(#ballhl)"/></g>
<g><circle cx="252.1" cy="762.6" r="10.0" fill="#6cc690"/><circle cx="252.1" cy="762.6" r="10.0" fill="url(#ballhl)"/></g>
<g><circle cx="272.5" cy="762.4" r="10.0" fill="#f0da78"/><circle cx="272.5" cy="762.4" r="10.0" fill="url(#ballhl)"/></g>
<g><circle cx="290.8" cy="762.7" r="10.0" fill="#ee7c8a"/><circle cx="290.8" cy="762.7" r="10.0" fill="url(#ballhl)"/></g>
<g><circle cx="312.4" cy="763.6" r="10.0" fill="#6cc690"/><circle cx="312.4" cy="763.6" r="10.0" fill="url(#ballhl)"/></g>
<g><circle cx="329.3" cy="761.8" r="10.0" fill="#ee7c8a"/><circle cx="329.3" cy="761.8" r="10.0" fill="url(#ballhl)"/></g>
<g><circle cx="351.3" cy="763.5" r="10.0" fill="#a98ae6"/><circle cx="351.3" cy="763.5" r="10.0" fill="url(#ballhl)"/></g>
<g><circle cx="367.4" cy="762.7" r="10.0" fill="#5e98ee"/><circle cx="367.4" cy="762.7" r="10.0" fill="url(#ballhl)"/></g>
<g><circle cx="386.7" cy="762.7" r="10.0" fill="#5e98ee"/><circle cx="386.7" cy="762.7" r="10.0" fill="url(#ballhl)"/></g>
<g><circle cx="407.8" cy="765.0" r="10.0" fill="#5e98ee"/><circle cx="407.8" cy="765.0" r="10.0" fill="url(#ballhl)"/></g>
<g><circle cx="429.4" cy="762.8" r="10.0" fill="#6cc690"/><circle cx="429.4" cy="762.8" r="10.0" fill="url(#ballhl)"/></g>
<g><circle cx="447.8" cy="762.3" r="10.0" fill="#f0da78"/><circle cx="447.8" cy="762.3" r="10.0" fill="url(#ballhl)"/></g>
<g><circle cx="465.7" cy="762.6" r="10.0" fill="#5e98ee"/><circle cx="465.7" cy="762.6" r="10.0" fill="url(#ballhl)"/></g>
<g><circle cx="240.5" cy="781.3" r="10.0" fill="#f0da78"/><circle cx="240.5" cy="781.3" r="10.0" fill="url(#ballhl)"/></g>
<g><circle cx="263.3" cy="780.5" r="10.0" fill="#6cc690"/><circle cx="263.3" cy="780.5" r="10.0" fill="url(#ballhl)"/></g>
<g><circle cx="282.5" cy="778.7" r="10.0" fill="#6cc690"/><circle cx="282.5" cy="778.7" r="10.0" fill="url(#ballhl)"/></g>
<g><circle cx="299.6" cy="781.1" r="10.0" fill="#f0da78"/><circle cx="299.6" cy="781.1" r="10.0" fill="url(#ballhl)"/></g>
<g><circle cx="319.4" cy="781.1" r="10.0" fill="#5e98ee"/><circle cx="319.4" cy="781.1" r="10.0" fill="url(#ballhl)"/></g>
<g><circle cx="340.3" cy="780.7" r="10.0" fill="#f0da78"/><circle cx="340.3" cy="780.7" r="10.0" fill="url(#ballhl)"/></g>
<g><circle cx="358.5" cy="780.8" r="10.0" fill="#f0da78"/><circle cx="358.5" cy="780.8" r="10.0" fill="url(#ballhl)"/></g>
<g><circle cx="379.8" cy="779.1" r="10.0" fill="#f0da78"/><circle cx="379.8" cy="779.1" r="10.0" fill="url(#ballhl)"/></g>
<g><circle cx="399.8" cy="779.4" r="10.0" fill="#5e98ee"/><circle cx="399.8" cy="779.4" r="10.0" fill="url(#ballhl)"/></g>
<g><circle cx="417.8" cy="778.0" r="10.0" fill="#f0da78"/><circle cx="417.8" cy="778.0" r="10.0" fill="url(#ballhl)"/></g>
<g><circle cx="438.1" cy="779.3" r="10.0" fill="#f0da78"/><circle cx="438.1" cy="779.3" r="10.0" fill="url(#ballhl)"/></g>
<g><circle cx="456.4" cy="781.3" r="10.0" fill="#5e98ee"/><circle cx="456.4" cy="781.3" r="10.0" fill="url(#ballhl)"/></g>
<g><circle cx="251.4" cy="797.6" r="10.0" fill="#a98ae6"/><circle cx="251.4" cy="797.6" r="10.0" fill="url(#ballhl)"/></g>
<g><circle cx="270.9" cy="798.4" r="10.0" fill="#6cc690"/><circle cx="270.9" cy="798.4" r="10.0" fill="url(#ballhl)"/></g>
<g><circle cx="292.9" cy="798.8" r="10.0" fill="#f0da78"/><circle cx="292.9" cy="798.8" r="10.0" fill="url(#ballhl)"/></g>
<g><circle cx="309.1" cy="798.9" r="10.0" fill="#6cc690"/><circle cx="309.1" cy="798.9" r="10.0" fill="url(#ballhl)"/></g>
<g><circle cx="331.3" cy="798.7" r="10.0" fill="#6cc690"/><circle cx="331.3" cy="798.7" r="10.0" fill="url(#ballhl)"/></g>
<g><circle cx="348.6" cy="795.3" r="10.0" fill="#a98ae6"/><circle cx="348.6" cy="795.3" r="10.0" fill="url(#ballhl)"/></g>
<g><circle cx="367.7" cy="798.1" r="10.0" fill="#ee7c8a"/><circle cx="367.7" cy="798.1" r="10.0" fill="url(#ballhl)"/></g>
<g><circle cx="388.6" cy="798.7" r="10.0" fill="#f0da78"/><circle cx="388.6" cy="798.7" r="10.0" fill="url(#ballhl)"/></g>
<g><circle cx="408.5" cy="798.1" r="10.0" fill="#f0da78"/><circle cx="408.5" cy="798.1" r="10.0" fill="url(#ballhl)"/></g>
<g><circle cx="428.4" cy="795.1" r="10.0" fill="#5e98ee"/><circle cx="428.4" cy="795.1" r="10.0" fill="url(#ballhl)"/></g>
<g><circle cx="447.3" cy="797.5" r="10.0" fill="#5e98ee"/><circle cx="447.3" cy="797.5" r="10.0" fill="url(#ballhl)"/></g>
<g><circle cx="465.4" cy="797.7" r="10.0" fill="#ee7c8a"/><circle cx="465.4" cy="797.7" r="10.0" fill="url(#ballhl)"/></g>
<g><circle cx="243.9" cy="815.9" r="10.0" fill="#5e98ee"/><circle cx="243.9" cy="815.9" r="10.0" fill="url(#ballhl)"/></g>
<g><circle cx="259.7" cy="812.5" r="10.0" fill="#5e98ee"/><circle cx="259.7" cy="812.5" r="10.0" fill="url(#ballhl)"/></g>
<g><circle cx="282.9" cy="813.9" r="10.0" fill="#f0da78"/><circle cx="282.9" cy="813.9" r="10.0" fill="url(#ballhl)"/></g>
<g><circle cx="298.6" cy="813.9" r="10.0" fill="#a98ae6"/><circle cx="298.6" cy="813.9" r="10.0" fill="url(#ballhl)"/></g>
<g><circle cx="320.7" cy="812.3" r="10.0" fill="#6cc690"/><circle cx="320.7" cy="812.3" r="10.0" fill="url(#ballhl)"/></g>
<g><circle cx="338.5" cy="815.6" r="10.0" fill="#ee7c8a"/><circle cx="338.5" cy="815.6" r="10.0" fill="url(#ballhl)"/></g>
<g><circle cx="358.4" cy="815.8" r="10.0" fill="#a98ae6"/><circle cx="358.4" cy="815.8" r="10.0" fill="url(#ballhl)"/></g>
<g><circle cx="380.0" cy="814.8" r="10.0" fill="#f0da78"/><circle cx="380.0" cy="814.8" r="10.0" fill="url(#ballhl)"/></g>
<g><circle cx="397.5" cy="812.1" r="10.0" fill="#ee7c8a"/><circle cx="397.5" cy="812.1" r="10.0" fill="url(#ballhl)"/></g>
<g><circle cx="416.7" cy="813.2" r="10.0" fill="#f0da78"/><circle cx="416.7" cy="813.2" r="10.0" fill="url(#ballhl)"/></g>
<g><circle cx="436.4" cy="814.3" r="10.0" fill="#5e98ee"/><circle cx="436.4" cy="814.3" r="10.0" fill="url(#ballhl)"/></g>
<g><circle cx="457.8" cy="813.7" r="10.0" fill="#ee7c8a"/><circle cx="457.8" cy="813.7" r="10.0" fill="url(#ballhl)"/></g>
<g><circle cx="252.6" cy="830.5" r="10.0" fill="#5e98ee"/><circle cx="252.6" cy="830.5" r="10.0" fill="url(#ballhl)"/></g>
<g><circle cx="270.1" cy="830.5" r="10.0" fill="#6cc690"/><circle cx="270.1" cy="830.5" r="10.0" fill="url(#ballhl)"/></g>
<g><circle cx="292.8" cy="832.9" r="10.0" fill="#ee7c8a"/><circle cx="292.8" cy="832.9" r="10.0" fill="url(#ballhl)"/></g>
<g><circle cx="308.9" cy="832.3" r="10.0" fill="#ee7c8a"/><circle cx="308.9" cy="832.3" r="10.0" fill="url(#ballhl)"/></g>
<g><circle cx="329.5" cy="830.3" r="10.0" fill="#ee7c8a"/><circle cx="329.5" cy="830.3" r="10.0" fill="url(#ballhl)"/></g>
<g><circle cx="349.7" cy="830.3" r="10.0" fill="#ee7c8a"/><circle cx="349.7" cy="830.3" r="10.0" fill="url(#ballhl)"/></g>
<g><circle cx="368.5" cy="830.7" r="10.0" fill="#6cc690"/><circle cx="368.5" cy="830.7" r="10.0" fill="url(#ballhl)"/></g>
<g><circle cx="388.5" cy="830.9" r="10.0" fill="#a98ae6"/><circle cx="388.5" cy="830.9" r="10.0" fill="url(#ballhl)"/></g>
<g><circle cx="407.5" cy="832.4" r="10.0" fill="#5e98ee"/><circle cx="407.5" cy="832.4" r="10.0" fill="url(#ballhl)"/></g>
<g><circle cx="427.9" cy="830.0" r="10.0" fill="#f0da78"/><circle cx="427.9" cy="830.0" r="10.0" fill="url(#ballhl)"/></g>
<g><circle cx="447.0" cy="830.7" r="10.0" fill="#5e98ee"/><circle cx="447.0" cy="830.7" r="10.0" fill="url(#ballhl)"/></g>
<g><circle cx="468.3" cy="830.2" r="10.0" fill="#f0da78"/><circle cx="468.3" cy="830.2" r="10.0" fill="url(#ballhl)"/></g>
<g><circle cx="240.6" cy="846.1" r="10.0" fill="#ee7c8a"/><circle cx="240.6" cy="846.1" r="10.0" fill="url(#ballhl)"/></g>
<g><circle cx="263.3" cy="847.0" r="10.0" fill="#ee7c8a"/><circle cx="263.3" cy="847.0" r="10.0" fill="url(#ballhl)"/></g>
<g><circle cx="282.1" cy="849.3" r="10.0" fill="#ee7c8a"/><circle cx="282.1" cy="849.3" r="10.0" fill="url(#ballhl)"/></g>
<g><circle cx="300.4" cy="848.2" r="10.0" fill="#6cc690"/><circle cx="300.4" cy="848.2" r="10.0" fill="url(#ballhl)"/></g>
<g><circle cx="321.7" cy="849.1" r="10.0" fill="#6cc690"/><circle cx="321.7" cy="849.1" r="10.0" fill="url(#ballhl)"/></g>
<g><circle cx="339.5" cy="849.4" r="10.0" fill="#f0da78"/><circle cx="339.5" cy="849.4" r="10.0" fill="url(#ballhl)"/></g>
<g><circle cx="358.2" cy="848.4" r="10.0" fill="#6cc690"/><circle cx="358.2" cy="848.4" r="10.0" fill="url(#ballhl)"/></g>
<g><circle cx="378.6" cy="849.5" r="10.0" fill="#a98ae6"/><circle cx="378.6" cy="849.5" r="10.0" fill="url(#ballhl)"/></g>
<g><circle cx="396.1" cy="846.5" r="10.0" fill="#f0da78"/><circle cx="396.1" cy="846.5" r="10.0" fill="url(#ballhl)"/></g>
<g><circle cx="417.6" cy="847.3" r="10.0" fill="#f0da78"/><circle cx="417.6" cy="847.3" r="10.0" fill="url(#ballhl)"/></g>
<g><circle cx="437.9" cy="846.1" r="10.0" fill="#5e98ee"/><circle cx="437.9" cy="846.1" r="10.0" fill="url(#ballhl)"/></g>
<g><circle cx="455.9" cy="849.0" r="10.0" fill="#ee7c8a"/><circle cx="455.9" cy="849.0" r="10.0" fill="url(#ballhl)"/></g>
<g><circle cx="250.5" cy="863.0" r="10.0" fill="#f0da78"/><circle cx="250.5" cy="863.0" r="10.0" fill="url(#ballhl)"/></g>
<g><circle cx="271.3" cy="866.7" r="10.0" fill="#f0da78"/><circle cx="271.3" cy="866.7" r="10.0" fill="url(#ballhl)"/></g>
<g><circle cx="289.8" cy="864.7" r="10.0" fill="#a98ae6"/><circle cx="289.8" cy="864.7" r="10.0" fill="url(#ballhl)"/></g>
<g><circle cx="310.9" cy="865.8" r="10.0" fill="#6cc690"/><circle cx="310.9" cy="865.8" r="10.0" fill="url(#ballhl)"/></g>
<g><circle cx="331.4" cy="866.4" r="10.0" fill="#6cc690"/><circle cx="331.4" cy="866.4" r="10.0" fill="url(#ballhl)"/></g>
<g><circle cx="349.1" cy="866.4" r="10.0" fill="#6cc690"/><circle cx="349.1" cy="866.4" r="10.0" fill="url(#ballhl)"/></g>
<g><circle cx="370.6" cy="864.9" r="10.0" fill="#a98ae6"/><circle cx="370.6" cy="864.9" r="10.0" fill="url(#ballhl)"/></g>
<g><circle cx="387.7" cy="863.0" r="10.0" fill="#a98ae6"/><circle cx="387.7" cy="863.0" r="10.0" fill="url(#ballhl)"/></g>
<g><circle cx="408.3" cy="865.6" r="10.0" fill="#6cc690"/><circle cx="408.3" cy="865.6" r="10.0" fill="url(#ballhl)"/></g>
<g><circle cx="429.1" cy="863.6" r="10.0" fill="#6cc690"/><circle cx="429.1" cy="863.6" r="10.0" fill="url(#ballhl)"/></g>
<g><circle cx="447.8" cy="866.6" r="10.0" fill="#5e98ee"/><circle cx="447.8" cy="866.6" r="10.0" fill="url(#ballhl)"/></g>
<g><circle cx="466.7" cy="864.7" r="10.0" fill="#f0da78"/><circle cx="466.7" cy="864.7" r="10.0" fill="url(#ballhl)"/></g>
<rect x="240" y="700" width="210" height="180" fill="#fff" opacity="0.1"/></g>
<path d="M246,772 C246,760 252,752 262,748 C300,735 370,718 425,709 C438,707 445,712 445,725 L442,805 C441,815 436,820 425,825 C380,845 310,865 265,876 C252,878 246,872 246,862 Z" fill="none" stroke="#cdbf35" stroke-width="3"/>
<path d="M90,703 C120,706 160,715 190,725 C215,735 232,745 240,760 C244,768 245,775 245,785 L244,864 C244,872 238,876 230,876 C215,876 195,868 174,857 C150,845 130,833 115,823 C105,817 96,810 93,798 L82,722 C81,710 84,703 90,703 Z" fill="none" stroke="#cdbf35" stroke-width="3"/>
</g>
<g id="tun">
<path d="M642,739 C680,728 720,718 748,712 C790,700 820,688 844,682 C858,680 870,684 880,692 C893,705 899,722 903,745 C906,770 903,790 899,804 C895,805 880,812 860,824 C840,835 815,845 791.7,856 C770,866 750,877 720,890 L700,898 L660,906 Z" fill="#c9cff2"/>
<path d="M642,739 C680,728 720,718 748,712 C790,700 820,688 844,682 C858,680 870,684 880,692 C893,705 899,722 901,739 L800.8,778.3 L729.8,794.4 L700,790 Z" fill="#e3305a"/>
<path d="M800.8,778.3 L901,739 C904,760 903,785 899,800 L849,815 C838,812 832,810 828,808 C820,800 812,790 800.8,778.3 Z" fill="#ffffff"/>
<path d="M730,868 L849,815 L899,799 C895,805 880,812 860,824 C840,835 815,845 791.7,856 C770,866 750,877 720,890 L700,898 L700,880 Z" fill="#2566d6"/>
<path d="M740,800 C760,810 790,815 810,812" stroke="#e8ecfa" stroke-width="6" fill="none" opacity="0.5"/>
<clipPath id="tunf"><ellipse cx="662" cy="822" rx="66" ry="83" transform="rotate(6 662 822)"/></clipPath>
<g clip-path="url(#tunf)">
<rect x="590" y="735" width="145" height="175" fill="#2a62d2"/>
<path d="M590,735 L735,735 L735,797 L603,850 L590,852 Z" fill="#2aa046"/>
<path d="M590,735 L735,735 L735,745 L674,754 L600,777 L590,780 Z" fill="#e4262e"/>
<path d="M600,777 L674,754" stroke="#1a1a1a" stroke-width="1.6"/>
<path d="M603,849 L722,797" stroke="#1d6a30" stroke-width="1.5"/>
<path d="M622,770 C618,790 620,820 628,846" stroke="#1f7a36" stroke-width="2" fill="none" opacity="0.5"/>
</g>
<ellipse cx="662" cy="822" rx="66" ry="83" transform="rotate(6 662 822)" fill="none" stroke="#eadc3c" stroke-width="3"/>
<path d="M642,739 C690,740 720,770 728,810 C732,845 722,880 700,894" fill="none" stroke="#eadc3c" stroke-width="5"/>
<path d="M724,715 C752,720 775,735 787,760 C796,782 795,815 789,838 C783,858 772,872 746,884" fill="none" stroke="#e8de48" stroke-width="5"/>
<path d="M777,702 C790,696 802,694 812,696 C830,705 845,722 852,745 C857,765 856,785 850,800 C844,815 830,830 806,850" fill="none" stroke="#e8de48" stroke-width="5"/>
<path d="M810,687 C825,681 845,680 860,686 C880,697 895,713 902,733 C907,752 907,772 902,790 C899,798 896,802 890,806" fill="none" stroke="#e8de48" stroke-width="5"/>
<path d="M594,812 L586,815 L586,836" fill="none" stroke="#ecdd3a" stroke-width="2.5"/>
<path d="M724,842 L722,860 L728,880" fill="none" stroke="#ecdd3a" stroke-width="3"/>
<path d="M905,768 L914,770 L906,793" fill="none" stroke="#ecdd3a" stroke-width="2.5"/>
<path d="M652,906 L659,907" stroke="#222" stroke-width="3"/>
<path d="M851,681 L857,683" stroke="#222" stroke-width="3"/>
</g>

<rect x="163" y="41" width="195" height="33" rx="5" fill="#24c05c"/><text transform="translate(257.5 65.5) scale(1 1.1)" fill="#fff" font-weight="bold" font-size="26.2" text-anchor="middle">Triangle Tent</text>
<rect x="625" y="35" width="189" height="35" rx="5" fill="#24c05c"/><text transform="translate(717 61.2) scale(1 1.1)" fill="#fff" font-weight="bold" font-size="27.5" text-anchor="middle">Square Tent</text>
<rect x="138.6" y="525.2" width="125.4" height="31.2" rx="5" fill="#24c05c"/><text transform="translate(200.3 550.4) scale(1 1.09)" fill="#fff" font-weight="bold" font-size="24.2" text-anchor="middle" textLength="81" lengthAdjust="spacingAndGlyphs">Ball Pit</text>
<rect x="528" y="670" width="194" height="31" rx="5" fill="#24c05c"/><text transform="translate(625.5 695) scale(1 1.1)" fill="#fff" font-weight="bold" font-size="25.4" text-anchor="middle">Crawl Tunnels</text>
<g stroke="#262626" stroke-width="2" fill="none">
<path d="M78.7,92.0 L71.7,92.0 L71.7,386.0 L78.7,386.0" fill="none"/>
<path d="M92.8,396.0 L90.3,401.5 L243.5,470.6 L246.0,465.1" fill="none"/>
<path d="M286.8,453.9 L289.7,459.2 L443.8,375.0 L440.9,369.7" fill="none"/>
<path d="M558.8,115.6 L553.8,115.6 L553.8,311.5 L558.8,311.5" fill="none"/>
<path d="M568.8,322.2 L566.7,326.7 L706.7,391.7 L708.8,387.2" fill="none"/>
<path d="M736.0,385.5 L738.3,390.0 L878.3,319.2 L876.0,314.7" fill="none"/>
<path d="M461.8,479.0 L469.8,479.0 L469.8,820.5 L461.8,820.5" fill="none"/>
<path d="M75.4,701.0 L71.4,701.0 L71.4,816.9 L75.4,816.9" fill="none"/>
<path d="M78.7,885.2 L78.7,892.2 L449.4,892.2 L449.4,885.2" fill="none"/>
<path d="M586.4,744.4 L581.9,744.4 L581.9,906.5 L586.4,906.5" fill="none"/>
<path d="M672.6,920.9 L675.2,926.3 L910.9,811.7 L908.3,806.3" fill="none"/>
</g>
<text transform="translate(62.5 227.8) rotate(-90)" font-size="21" text-anchor="middle" fill="#1a1a1a">53in&#160;&#160;/ 135cm</text>
<text transform="translate(153.2 456.3) rotate(24)" font-size="20.6" text-anchor="middle" fill="#1a1a1a">41in / 105cm</text>
<text transform="translate(378.2 437.2) rotate(-29)" font-size="21.4" text-anchor="middle" fill="#1a1a1a">41in / 105cm</text>
<text transform="translate(546.3 217.6) rotate(-90)" font-size="21" text-anchor="middle" fill="#1a1a1a">28in / 72cm</text>
<text transform="translate(623.75 378.75) rotate(24.8)" font-size="21" text-anchor="middle" fill="#1a1a1a">28in / 72cm</text>
<text transform="translate(818.75 375.4) rotate(-26.4)" font-size="21.3" text-anchor="middle" fill="#1a1a1a">28in / 72cm</text>
<text transform="translate(493.3 660.5) rotate(-90)" font-size="21.2" text-anchor="middle" fill="#1a1a1a">32in&#160;&#160;/ 80cm</text>
<text transform="translate(63.3 758.2) rotate(-90)" font-size="21" text-anchor="middle" fill="#1a1a1a">17in&#160;&#160;/ 44cm</text>
<text transform="translate(263.1 920.3) rotate(0)" font-size="21.25" text-anchor="middle" fill="#1a1a1a">48in&#160;&#160;/ 120cm</text>
<text transform="translate(572.7 821.9) rotate(-90)" font-size="20.4" text-anchor="middle" fill="#1a1a1a">18in&#160;&#160;/ 46cm</text>
<text transform="translate(812 888.8) rotate(-25.4)" font-size="21.5" text-anchor="middle" fill="#1a1a1a">43in / 110cm</text>
</svg></body></html>
